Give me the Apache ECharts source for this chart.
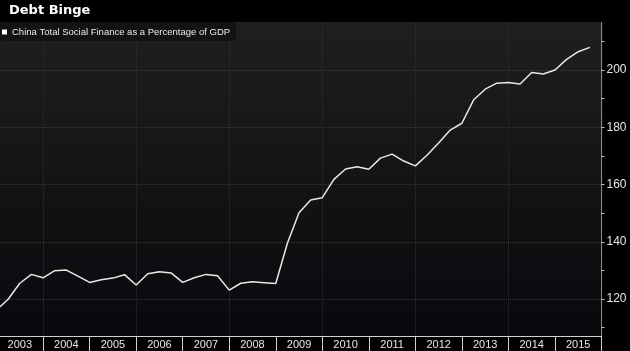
<!DOCTYPE html>
<html>
<head>
<meta charset="utf-8">
<script src="https://cdn.jsdelivr.net/npm/echarts@6/dist/echarts.min.js"></script>
<style>
  html, body { margin: 0; padding: 0; background: #000; }
  #chart { width: 630px; height: 351px; }
</style>
</head>
<body>
<div id="chart"></div>
<script>
// quarter positions as decimal years (quarter ends)
const quarterPos = [
  2003.00, 2003.25, 2003.50, 2003.75,
  2004.00, 2004.25, 2004.50, 2004.75,
  2005.00, 2005.25, 2005.50, 2005.75,
  2006.00, 2006.25, 2006.50, 2006.75,
  2007.00, 2007.25, 2007.50, 2007.75,
  2008.00, 2008.25, 2008.50, 2008.75,
  2009.00, 2009.25, 2009.50, 2009.75,
  2010.00, 2010.25, 2010.50, 2010.75,
  2011.00, 2011.25, 2011.50, 2011.75,
  2012.00, 2012.25, 2012.50, 2012.75,
  2013.00, 2013.25, 2013.50, 2013.75,
  2014.00, 2014.25, 2014.50, 2014.75,
  2015.00, 2015.25, 2015.50, 2015.75
]
// total social finance, % of GDP
const tsfShare = [
  116.2, 119.9, 125.5, 128.6,
  127.4, 129.9, 130.1, 128.0,
  125.8, 126.7, 127.3, 128.5,
  124.9, 128.8, 129.5, 129.1,
  125.8, 127.4, 128.6, 128.1,
  123.1, 125.5, 126.0, 125.7,
  125.4, 139.5, 150.1, 154.6,
  155.4, 161.8, 165.4, 166.2,
  165.3, 169.2, 170.6, 168.2,
  166.5, 170.2, 174.5, 179.0,
  181.4, 189.5, 193.3, 195.4,
  195.6, 195.1, 199.1, 198.6,
  200.0, 203.7, 206.4, 207.9
]
const yearLabels = ['', '2003', '2004', '2005', '2006', '2007', '2008', '2009',
  '2010', '2011', '2012', '2013', '2014', '2015']
const yLabels = [120, 140, 160, 180, 200]

const seriesName = 'China Total Social Finance as a Percentage of GDP'

const chart = echarts.init(document.getElementById('chart'))

const option = {
  backgroundColor: '#000000',
  animation: false,
  title: {
    text: 'Debt Binge',
    left: 9,
    top: 4,
    padding: 0,
    z: 120,
    textStyle: { color: '#ffffff', fontSize: 13, fontWeight: 'bold', fontFamily: 'DejaVu Sans' }
  },
  legend: {
    data: [seriesName],
    left: 0,
    top: 22,
    padding: [5, 6, 4, 2],
    backgroundColor: '#131316',
    borderRadius: 2,
    icon: 'rect',
    itemWidth: 5,
    itemHeight: 5,
    selectedMode: false,
    textStyle: { color: '#e8e8e8', fontSize: 9.5, fontFamily: 'Liberation Sans' }
  },
  graphic: [
    {
      type: 'rect',
      z: -10,
      shape: { x: 0, y: 22, width: 602.5, height: 314 },
      style: {
        fill: new echarts.graphic.LinearGradient(0, 0, 0, 1, [
          { offset: 0, color: '#1f1f20' },
          { offset: 1, color: '#09090d' }
        ])
      }
    },
    {
      type: 'rect',
      z: 100,
      shape: { x: 0, y: 0, width: 630, height: 22 },
      style: { fill: '#000000' }
    }
  ],
  grid: {
    left: -50,
    right: 28.5,
    top: 12.75,
    bottom: -5.25,
    containLabel: false,
    outerBoundsMode: 'none'
  },
  xAxis: [
    {
      type: 'value',
      position: 'top',
      min: 2002,
      max: 2016,
      interval: 2,
      axisLine: { show: false },
      axisTick: { show: false },
      axisLabel: { show: false },
      splitLine: { show: true, lineStyle: { color: '#303033', type: 'dotted', width: 1 } }
    },
    {
      type: 'category',
      position: 'bottom',
      offset: -20.25,
      data: yearLabels,
      boundaryGap: true,
      axisLine: { show: true, lineStyle: { color: '#d0d0d0', width: 1 } },
      axisTick: { show: true, interval: 0, length: 16, lineStyle: { color: '#cfcfcf' } },
      axisLabel: { color: '#e6e6e6', fontSize: 11, fontFamily: 'Liberation Sans', margin: 3, interval: 0 },
      splitLine: { show: false }
    }
  ],
  yAxis: {
    type: 'value',
    position: 'right',
    min: 100,
    max: 220,
    interval: 10,
    axisLine: { show: true, lineStyle: { color: '#8a8a8a', width: 1 } },
    axisTick: { show: true, length: 3, lineStyle: { color: '#bdbdbd' } },
    axisLabel: {
      color: '#e6e6e6',
      fontSize: 12,
      fontFamily: 'Liberation Sans',
      margin: 5,
      formatter: (v) => (yLabels.indexOf(v) >= 0 ? String(v) : '')
    },
    splitLine: {
      show: true,
      lineStyle: { color: ['#3a3a3d', 'transparent'], type: 'dotted', width: 1 }
    }
  },
  series: [
    {
      name: seriesName,
      type: 'line',
      xAxisIndex: 0,
      data: quarterPos.map((q, i) => [q, tsfShare[i]]),
      symbol: 'none',
      smooth: false,
      lineStyle: { color: '#e8e8e8', width: 1.5 },
      itemStyle: { color: '#ffffff' }
    }
  ]
}

chart.setOption(option)
</script>
</body>
</html>
